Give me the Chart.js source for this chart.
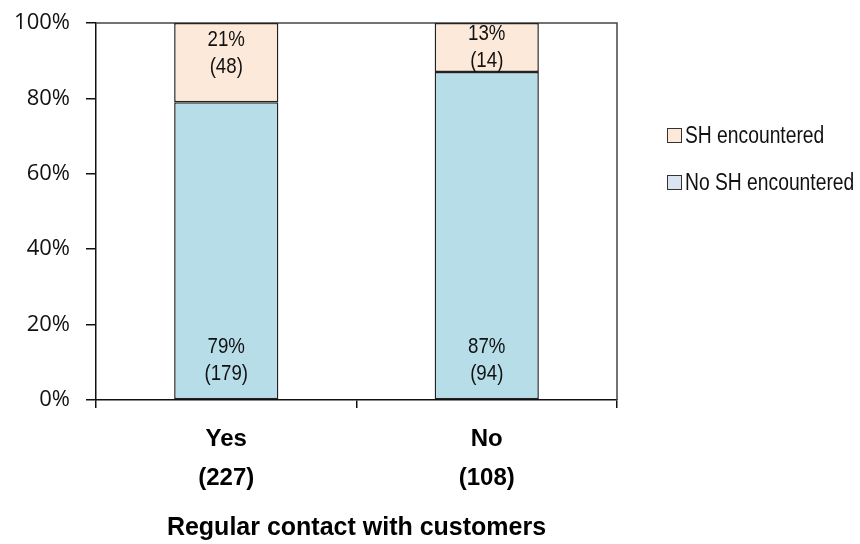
<!DOCTYPE html>
<html>
<head>
<meta charset="utf-8">
<script src="https://cdn.jsdelivr.net/npm/chart.js@4.4.1/dist/chart.umd.min.js"></script>
<style>
    html, body { margin: 0; padding: 0; background: #fff; }
    #wrap { position: relative; width: 860px; height: 544px; }
    #legend { position: absolute; left: 667px; top: 0; font-family: 'Liberation Sans Narrow', 'Liberation Sans', Arial, sans-serif; font-size: 23.5px; color: #111; }
    .legend__item { position: absolute; left: 0; white-space: nowrap; display: flex; align-items: center; height: 28px; }
    .legend__box { width: 13px; height: 13px; border: 1.5px solid #333; margin-right: 3px; }
    .legend__text { display: inline-block; transform: scaleX(0.82); transform-origin: left center; }
</style>
</head>
<body>
<div id="wrap">
    <canvas id="contactData" width="860" height="544"></canvas>
    <div id="legend"></div>
</div>
<script>
const categories = ["Yes", "No"];
const categoryTotals = [227, 108];
const seriesNames = ["No SH encountered", "SH encountered"];
const noShPct = [79, 87];
const noShCount = [179, 94];
const shPct = [21, 13];
const shCount = [48, 14];
const yTicks = [0, 20, 40, 60, 80, 100];

const narrow = "'Liberation Sans Narrow', 'Liberation Sans', Arial, sans-serif";
const barColors = ["#b7dee8", "#fde9d9"];
const legendColors = ["#dbe5f1", "#fde9d9"];

// bar value labels: "79%" over "(179)", squeezed to look like arial narrow
const barLabels = {
    id: 'barLabels',
    afterDatasetsDraw(chart) {
        const ctx = chart.ctx;
        const pcts = [noShPct, shPct];
        const counts = [noShCount, shCount];
        const squeeze = 0.83;
        chart.data.datasets.forEach((ds, d) => {
            const meta = chart.getDatasetMeta(d);
            meta.data.forEach((bar, i) => {
                const { x, y, base } = bar.getProps(['x', 'y', 'base'], true);
                const line1 = pcts[d][i] + "%";
                const line2 = "(" + counts[d][i] + ")";
                let y1;
                if (d === 0) {
                    y1 = base - 52;
                } else if (base - y > 70) {
                    y1 = y + 17;
                } else {
                    y1 = (y + base) / 2 - 13.5;
                }
                ctx.save();
                ctx.translate(x, 0);
                ctx.scale(squeeze, 1);
                ctx.font = "22.5px " + narrow;
                ctx.fillStyle = "#111";
                ctx.textAlign = "center";
                ctx.textBaseline = "middle";
                ctx.fillText(line1, 0, y1);
                ctx.fillText(line2, 0, y1 + 27);
                ctx.restore();
            });
        });
    }
};

// box round the plot area (top and right sides)
const plotBox = {
    id: 'plotBox',
    beforeDatasetsDraw(chart) {
        const { ctx, chartArea } = chart;
        ctx.save();
        ctx.strokeStyle = "#444";
        ctx.lineWidth = 1.5;
        ctx.beginPath();
        ctx.moveTo(chartArea.left, chartArea.top);
        ctx.lineTo(chartArea.right, chartArea.top);
        ctx.lineTo(chartArea.right, chartArea.bottom);
        ctx.stroke();
        ctx.restore();
    }
};

const contactChartElm = document.getElementById('contactData');

const contactChartData = {
    labels: categories.map((c, i) => [c, "(" + categoryTotals[i] + ")"]),
    datasets: [{
        label: seriesNames[0],
        data: noShPct,
        backgroundColor: barColors[0],
        borderColor: "#222",
        borderWidth: 1.5,
        borderSkipped: false,
        categoryPercentage: 0.4,
        barPercentage: 1.0
    }, {
        label: seriesNames[1],
        data: shPct,
        backgroundColor: barColors[1],
        borderColor: "#222",
        borderWidth: 1.5,
        borderSkipped: false,
        categoryPercentage: 0.4,
        barPercentage: 1.0
    }]
};

const contactChartconfig = {
    type: 'bar',
    data: contactChartData,
    options: {
        responsive: false,
        animation: false,
        devicePixelRatio: 1,
        layout: {
            padding: { top: 23, right: 243, left: 0, bottom: 0 }
        },
        plugins: {
            legend: { display: false },
            tooltip: { enabled: false }
        },
        scales: {
            x: {
                stacked: true,
                afterFit: (scale) => {
                    scale.height = 144;
                    scale.paddingLeft = 0;
                    scale.paddingRight = 0;
                },
                border: { display: true, color: "#111", width: 1.5 },
                grid: {
                    offset: true,
                    drawOnChartArea: false,
                    drawTicks: true,
                    tickLength: 8,
                    color: "#111",
                    lineWidth: 1.5
                },
                ticks: {
                    color: "#000",
                    padding: 12,
                    maxRotation: 0,
                    font: { family: narrow, size: 24, weight: 'bold', lineHeight: 1.625 }
                },
                title: {
                    display: true,
                    text: "Regular contact with customers",
                    color: "#000",
                    padding: { top: 0, bottom: 3 },
                    font: { family: narrow, size: 25, weight: 'bold', lineHeight: 1 }
                }
            },
            y: {
                stacked: true,
                min: 0,
                max: 100,
                afterFit: (scale) => {
                    scale.width = 96;
                    scale.paddingTop = 0;
                    scale.paddingBottom = 0;
                },
                afterBuildTicks: (scale) => { scale.ticks = yTicks.map(v => ({ value: v })); },
                border: { display: true, color: "#111", width: 1.5 },
                grid: {
                    drawOnChartArea: false,
                    drawTicks: true,
                    tickLength: 10,
                    color: "#111",
                    lineWidth: 1.5
                },
                ticks: {
                    color: "#111",
                    padding: 16,
                    font: { family: "'Open Sans', sans-serif", size: 22 },
                    callback: (v) => v + "%"
                }
            }
        }
    },
    plugins: [plotBox, barLabels]
};

const contactChart = new Chart(contactChartElm, contactChartconfig);

// legend, top item is the upper segment
const legendElm = document.getElementById('legend');
const legendRows = [{ name: seriesNames[1], color: legendColors[1], y: 121 }, { name: seriesNames[0], color: legendColors[0], y: 168 }];
legendRows.forEach(row => {
    const item = document.createElement('div');
    item.className = 'legend__item';
    item.style.top = row.y + 'px';
    item.innerHTML = `<span class="legend__box" style="background:${row.color}"></span><span class="legend__text">${row.name}</span>`;
    legendElm.appendChild(item);
});
</script>
</body>
</html>
